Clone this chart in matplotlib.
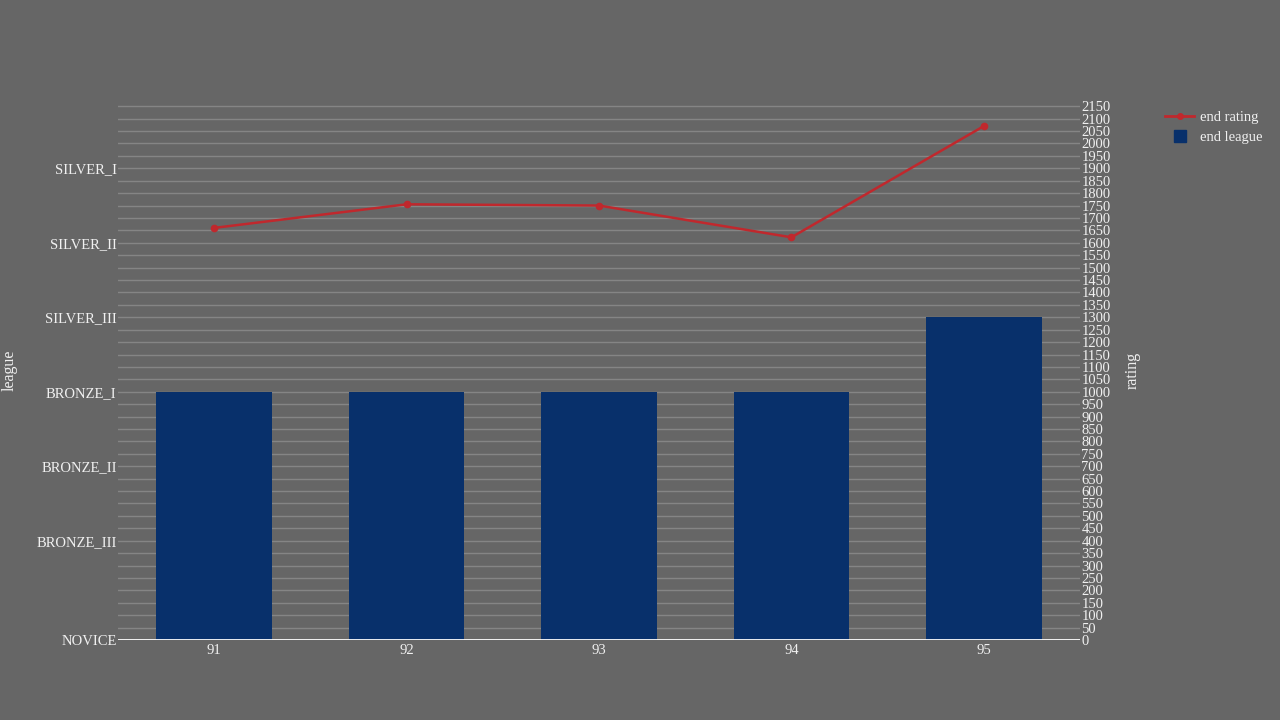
import numpy as np
import matplotlib
matplotlib.use("Agg")
from matplotlib import pyplot as plt
from matplotlib.lines import Line2D

# datos
seasons = [91, 92, 93, 94, 95]
end_rating = [1660, 1755, 1750, 1622, 2070]
end_league = [1000, 1000, 1000, 1000, 1300]
league_names = ["NOVICE", "BRONZE_III", "BRONZE_II", "BRONZE_I", "SILVER_III", "SILVER_II", "SILVER_I"]
league_vals = [0, 400, 700, 1000, 1300, 1600, 1900]
rating_ticks = list(range(0, 2151, 50))

bg = "#666666"
txt = "#f0f0f0"
grid = "#858585"
azul = "#08306b"
rojo = "#c0282d"

plt.rcParams['font.family'] = ['Liberation Serif', 'DejaVu Serif']

fig = plt.figure(figsize=(12.8, 7.2), dpi=100, facecolor=bg)
ax = fig.add_axes([118/1280, 80/720, (1080-118)/1280, (640-105)/720])
ax.set_facecolor(bg)
ax2 = ax.twinx()

ymax = 2155
ax.set_xlim(90.5, 95.5)
ax.set_ylim(0, ymax)
ax2.set_ylim(0, ymax)

# barras
ax.bar(seasons, end_league, width=0.6, color=azul, zorder=3)

# grilla desde el eje derecho
for v in rating_ticks[1:]:
    ax.axhline(v, color=grid, lw=1, zorder=1)
ax.axhline(0, color="white", lw=2, zorder=4)

ax2.plot(seasons, end_rating, color=rojo, lw=1.8, marker="o", ms=4.5, zorder=5)

for a in (ax, ax2):
    for s in a.spines.values():
        s.set_visible(False)

ax.set_yticks(league_vals)
ax.set_yticklabels(league_names)
ax.set_xticks(seasons)
ax.set_xticklabels([str(s) for s in seasons])
ax.tick_params(axis="y", colors=txt, labelsize=10.5, length=0, pad=1)
ax.tick_params(axis="x", colors=txt, labelsize=10.5, length=0, pad=3)

ax2.set_yticks(rating_ticks)
ax2.set_yticklabels([str(t) for t in rating_ticks])
ax2.tick_params(axis="y", colors=txt, labelsize=10.5, length=0, pad=1)

fig.text(10/1280, 1-370/720, "league", rotation=90, color=txt, fontsize=11.5, ha="center", va="center")
fig.text(1133/1280, 1-370/720, "rating", rotation=90, color=txt, fontsize=11.5, ha="center", va="center")

handles = [Line2D([0], [0], color=rojo, lw=2, marker="o", ms=4),
           Line2D([0], [0], color=azul, lw=0, marker="s", ms=9)]
leg = fig.legend(handles, ["end rating", "end league"], loc="upper left",
                 bbox_to_anchor=(1152/1280, 1-98/720), frameon=False,
                 fontsize=10.5, labelcolor=txt, handlelength=2.0, handletextpad=0.4,
                 labelspacing=0.45)

fig.savefig("out.png", dpi=100, facecolor=bg)
